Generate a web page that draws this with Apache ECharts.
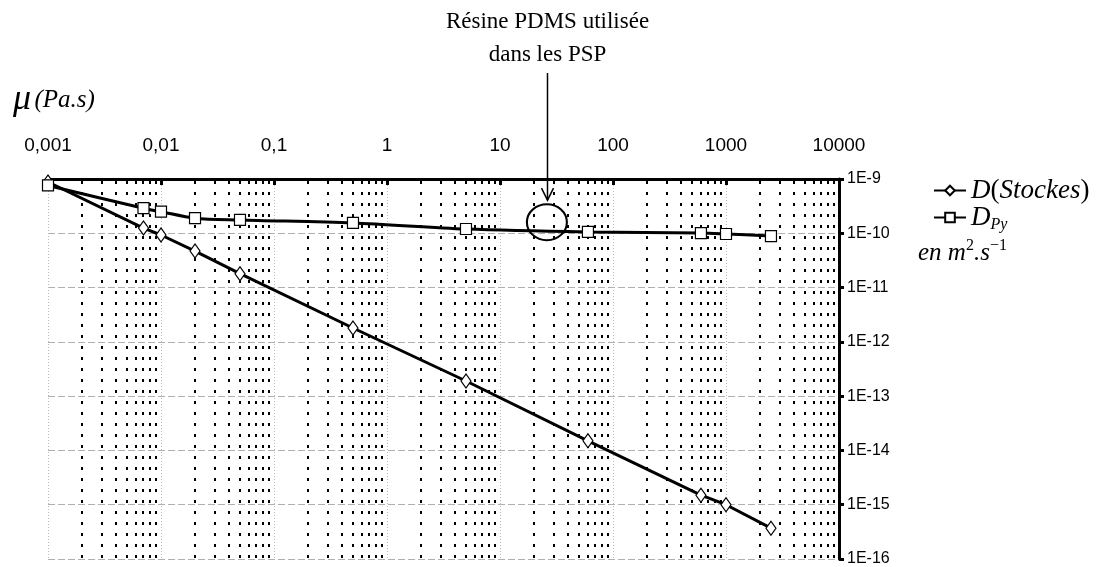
<!DOCTYPE html>
<html><head><meta charset="utf-8">
<script src="https://cdn.jsdelivr.net/npm/echarts@6/dist/echarts.min.js"></script>
<style>html,body{margin:0;padding:0;background:#fff}#c{width:1098px;height:567px}</style>
</head><body><div id="c"></div>
<script>
// ---- data ----
const viscosity = [0.001, 0.007, 0.01, 0.02, 0.05, 0.5, 5, 60, 600, 1000, 2500];
const dStokes = [8.8e-10, 1.25e-10, 9.3e-11, 4.7e-11, 1.8e-11, 1.8e-12, 1.9e-13, 1.5e-14, 1.5e-15, 1.0e-15, 3.7e-16];
const dPy = [7.6e-10, 2.9e-10, 2.5e-10, 1.9e-10, 1.76e-10, 1.55e-10, 1.2e-10, 1.06e-10, 1.01e-10, 9.7e-11, 8.9e-11];
const xTickLabels = ['0,001', '0,01', '0,1', '1', '10', '100', '1000', '10000'];
const yTickLabels = ['1E-16', '1E-15', '1E-14', '1E-13', '1E-12', '1E-11', '1E-10', '1E-9'];
const decadeStarts = [0.001, 0.01, 0.1, 1, 10, 100, 1000];
const minorMultipliers = [2, 3, 4, 5, 6, 7, 8, 9];
const resinMu = 26, resinD = 1.6e-10;
const annotationLines = ['Résine PDMS utilisée', 'dans les PSP'];

const X_MIN = 0.001, X_MAX = 10000, Y_MIN = 1e-16, Y_MAX = 1e-9;
const minorValues = [];
decadeStarts.forEach(d => minorMultipliers.forEach(m => minorValues.push(+(d * m).toPrecision(3))));

const sans = "'Liberation Sans Narrow', 'Arial Narrow', 'Liberation Sans', Arial, sans-serif";
const serif = "'Liberation Serif', 'Times New Roman', serif";

const chart = echarts.init(document.getElementById('c'), null, {renderer: 'canvas'});
const option = {
  animation: false,
  backgroundColor: '#fff',
  grid: {left: 48, right: 259, top: 179, bottom: 8, containLabel: false},
  xAxis: {
    type: 'log', logBase: 10, position: 'top', min: X_MIN, max: X_MAX, splitNumber: 7,
    axisLine: {show: true, lineStyle: {color: '#000', width: 3}},
    axisTick: {show: true, inside: true, length: 6, lineStyle: {color: '#000', width: 3}},
    axisLabel: {
      margin: 24, fontFamily: sans, fontSize: 19, color: '#000',
      formatter: v => xTickLabels[Math.round(Math.log10(v)) + 3]
    },
    splitLine: {show: true, lineStyle: {color: '#bbb', width: 1, type: [1, 2]}}
  },
  yAxis: {
    type: 'log', logBase: 10, position: 'right', min: Y_MIN, max: Y_MAX, splitNumber: 7,
    axisLine: {show: true, lineStyle: {color: '#000', width: 3}},
    axisTick: {show: true, inside: false, length: 5, lineStyle: {color: '#000', width: 3}},
    axisLabel: {
      margin: 8, fontFamily: sans, fontSize: 16, color: '#000',
      formatter: v => yTickLabels[Math.round(Math.log10(v)) + 16]
    },
    splitLine: {show: true, lineStyle: {color: '#b0b0b0', width: 1, type: [7, 3]}}
  },
  legend: {
    orient: 'vertical', left: 928, top: 172, itemGap: 0, itemWidth: 32, itemHeight: 12,
    data: ['D(Stockes)', 'D_Py'],
    formatter: name => name === 'D_Py' ? '{i|D}{sub|Py}' : '{i|D}{p|(}{i|Stockes}{p|)}',
    textStyle: {
      color: '#000',
      rich: {
        i: {fontFamily: serif, fontStyle: 'italic', fontSize: 27, color: '#000'},
        p: {fontFamily: serif, fontSize: 27, color: '#000'},
        sub: {fontFamily: serif, fontStyle: 'italic', fontSize: 16, color: '#000', padding: [14, 0, 0, 0]}
      }
    }
  },
  series: [
    {
      name: 'minor', type: 'custom', silent: true, z: 1,
      data: minorValues.map(v => [v, Y_MAX]),
      encode: {x: 0, y: 1},
      renderItem: (params, api) => {
        const v = api.value(0);
        const a = api.coord([v, Y_MAX]);
        const b = api.coord([v, Y_MIN]);
        const x = Math.round(a[0]);
        return {type: 'line', shape: {x1: x, y1: a[1] + 2, x2: x, y2: b[1]},
          style: {stroke: '#000', lineWidth: 2, lineDash: [3, 8]}};
      }
    },
    {
      name: 'D(Stockes)', type: 'line', z: 3,
      data: viscosity.map((m, i) => [m, dStokes[i]]),
      symbol: 'diamond', symbolSize: [10, 14], showAllSymbol: true,
      lineStyle: {color: '#000', width: 3},
      itemStyle: {color: '#fff', borderColor: '#000', borderWidth: 1.2}
    },
    {
      name: 'D_Py', type: 'line', z: 3, smooth: 0.3,
      data: viscosity.map((m, i) => [m, dPy[i]]),
      symbol: 'rect', symbolSize: 11, showAllSymbol: true,
      lineStyle: {color: '#000', width: 3},
      itemStyle: {color: '#fff', borderColor: '#000', borderWidth: 1.2},
      markPoint: {
        silent: true, animation: false,
        symbol: 'circle', symbolSize: [40, 36],
        itemStyle: {color: 'rgba(0,0,0,0)', borderColor: '#000', borderWidth: 2},
        label: {show: false},
        data: [{coord: [resinMu, resinD]}]
      }
    }
  ]
};
chart.setOption(option);

const p = chart.convertToPixel({xAxisIndex: 0, yAxisIndex: 0}, [resinMu, resinD]);
const ax = Math.round(p[0]) + 0.5;
const arrowTop = 73, arrowBottom = p[1] - 22;
chart.setOption({
  graphic: [
    {type: 'text', left: 13, top: 82, style: {
      text: '{mu|μ} {pa|(Pa.s)}',
      rich: {
        mu: {fontFamily: serif, fontStyle: 'italic', fontSize: 36, fill: '#000'},
        pa: {fontFamily: serif, fontStyle: 'italic', fontSize: 25, fill: '#000'}
      }
    }},
    {type: 'text', x: ax, y: 22, style: {text: annotationLines[0], fontFamily: serif, fontSize: 23, fill: '#000', align: 'center', verticalAlign: 'middle'}},
    {type: 'text', x: ax, y: 55, style: {text: annotationLines[1], fontFamily: serif, fontSize: 23, fill: '#000', align: 'center', verticalAlign: 'middle'}},
    {type: 'line', shape: {x1: ax, y1: arrowTop, x2: ax, y2: arrowBottom}, style: {stroke: '#000', lineWidth: 1.5}},
    {type: 'polyline', shape: {points: [[ax - 6, arrowBottom - 12], [ax, arrowBottom], [ax + 6, arrowBottom - 12]]}, style: {stroke: '#000', lineWidth: 1.5, fill: null}},
    {type: 'text', left: 918, top: 238, style: {
      text: '{i|en m}{sup|2}{i|.s}{sup|−1}',
      rich: {
        i: {fontFamily: serif, fontStyle: 'italic', fontSize: 25, fill: '#000'},
        sup: {fontFamily: serif, fontSize: 16, fill: '#000', padding: [0, 0, 14, 0]}
      }
    }}
  ]
});
</script></body></html>
